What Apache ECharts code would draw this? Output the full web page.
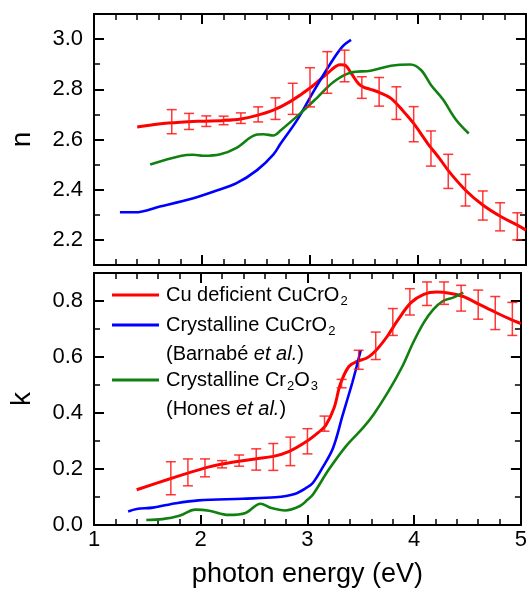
<!DOCTYPE html>
<html>
<head>
<meta charset="utf-8">
<script src="https://cdn.jsdelivr.net/npm/echarts@6/dist/echarts.min.js"></script>
<style>
  html, body { margin: 0; padding: 0; background: #fff; }
  #chart { width: 530px; height: 591px; }
</style>
</head>
<body>
<div id="chart"></div>
<script>
// ---- refractive index n (upper panel) ----
const nRedX   = [1.40, 1.60, 1.80, 2.00, 2.20, 2.36, 2.50, 2.66, 2.82, 3.00, 3.16, 3.28, 3.32, 3.38, 3.45, 3.50, 3.56, 3.65, 3.75, 3.87, 3.96, 4.09, 4.20, 4.29, 4.44, 4.60, 4.77, 4.92, 5.00];
const nRedY   = [2.650, 2.662, 2.669, 2.673, 2.676, 2.682, 2.695, 2.717, 2.752, 2.805, 2.863, 2.898, 2.897, 2.865, 2.822, 2.808, 2.800, 2.786, 2.764, 2.710, 2.664, 2.584, 2.524, 2.471, 2.398, 2.339, 2.292, 2.259, 2.239];
const nBlueX  = [1.24, 1.38, 1.61, 1.92, 2.11, 2.32, 2.51, 2.66, 2.73, 2.88, 3.04, 3.19, 3.30, 3.38];
const nBlueY  = [2.310, 2.310, 2.333, 2.366, 2.393, 2.426, 2.478, 2.540, 2.585, 2.677, 2.797, 2.903, 2.970, 2.997];
const nGreenX = [1.52, 1.80, 1.92, 2.01, 2.17, 2.32, 2.51, 2.57, 2.66, 2.73, 2.91, 3.06, 3.22, 3.38, 3.56, 3.75, 3.93, 4.03, 4.12, 4.23, 4.35, 4.47];
const nGreenY = [2.500, 2.534, 2.539, 2.535, 2.541, 2.567, 2.620, 2.621, 2.616, 2.637, 2.704, 2.764, 2.830, 2.867, 2.874, 2.894, 2.899, 2.876, 2.817, 2.760, 2.680, 2.624];

// ---- extinction coefficient k (lower panel) ----
const kRedX   = [1.40, 1.72, 2.05, 2.20, 2.51, 2.68, 2.83, 2.99, 3.10, 3.17, 3.25, 3.31, 3.39, 3.47, 3.56, 3.65, 3.75, 3.84, 3.97, 4.09, 4.21, 4.33, 4.46, 4.61, 4.77, 4.90, 5.00];
const kRedY   = [0.126, 0.166, 0.205, 0.218, 0.236, 0.245, 0.263, 0.298, 0.330, 0.355, 0.419, 0.505, 0.567, 0.585, 0.597, 0.627, 0.675, 0.728, 0.794, 0.824, 0.832, 0.828, 0.816, 0.788, 0.758, 0.735, 0.719];
const kBlueX  = [1.32, 1.40, 1.55, 1.77, 1.98, 2.39, 2.70, 2.88, 3.00, 3.05, 3.14, 3.24, 3.33, 3.42, 3.45, 3.50];
const kBlueY  = [0.048, 0.057, 0.062, 0.078, 0.088, 0.094, 0.099, 0.111, 0.135, 0.150, 0.204, 0.275, 0.392, 0.508, 0.550, 0.625];
const kGreenX = [1.49, 1.64, 1.80, 1.95, 2.08, 2.26, 2.42, 2.56, 2.66, 2.79, 2.93, 3.00, 3.05, 3.20, 3.36, 3.52, 3.62, 3.76, 3.89, 3.99, 4.09, 4.18, 4.27, 4.37, 4.46];
const kGreenY = [0.018, 0.021, 0.033, 0.055, 0.051, 0.036, 0.043, 0.076, 0.061, 0.052, 0.068, 0.090, 0.108, 0.198, 0.281, 0.347, 0.395, 0.478, 0.567, 0.651, 0.723, 0.770, 0.800, 0.813, 0.830];

// ---- error bars on the Cu deficient film ----
const errX    = [1.72, 1.88, 2.04, 2.20, 2.36, 2.52, 2.68, 2.84, 3.00, 3.16, 3.32, 3.48, 3.64, 3.80, 3.96, 4.12, 4.28, 4.44, 4.60, 4.76, 4.92];
const nErrMid = [2.671, 2.672, 2.673, 2.676, 2.685, 2.700, 2.723, 2.762, 2.808, 2.867, 2.893, 2.807, 2.790, 2.745, 2.661, 2.564, 2.473, 2.398, 2.337, 2.292, 2.254];
const nErr    = [0.048, 0.032, 0.021, 0.017, 0.021, 0.030, 0.043, 0.062, 0.078, 0.083, 0.063, 0.043, 0.057, 0.065, 0.070, 0.070, 0.068, 0.063, 0.058, 0.056, 0.054];
const kErrMid = [0.167, 0.188, 0.204, 0.217, 0.230, 0.234, 0.243, 0.263, 0.299, 0.362, 0.505, 0.590, 0.640, 0.725, 0.797, 0.826, 0.828, 0.810, 0.787, 0.757, 0.736];
const kErr    = [0.059, 0.048, 0.032, 0.013, 0.020, 0.038, 0.048, 0.051, 0.045, 0.027, 0.015, 0.034, 0.049, 0.048, 0.047, 0.042, 0.040, 0.046, 0.052, 0.059, 0.059];

const xTicks = [1, 2, 3, 4, 5];

const RED = '#ff0000', BLUE = '#0000ff', GREEN = '#108010';
const FONT = 'Liberation Sans, Arial, sans-serif';

const pairs = (xs, ys) => xs.map((x, i) => [x, ys[i]]);
const errRows = (xs, mid, err) => xs.map((x, i) => [x, mid[i], err[i]]);

function xAxisDef(gridIndex, position, withLabels) {
  return {
    type: 'value', gridIndex, position,
    min: xTicks[0], max: xTicks[xTicks.length - 1], interval: 1,
    axisLine: { show: true, onZero: false, lineStyle: { color: '#000', width: 2 } },
    axisTick: { show: true, inside: true, length: 10, lineStyle: { color: '#000', width: 2 } },
    minorTick: { show: true, splitNumber: 5, length: 6, lineStyle: { color: '#000', width: 1.5 } },
    splitLine: { show: false },
    axisLabel: {
      show: withLabels, margin: 4, color: '#000', fontFamily: FONT, fontSize: 22,
      formatter: v => String(v)
    }
  };
}

function yAxisDef(gridIndex, position, min, max, withLabels, name) {
  return {
    type: 'value', gridIndex, position, min, max, splitNumber: 5,
    axisLine: { show: true, onZero: false, lineStyle: { color: '#000', width: 2 } },
    axisTick: { show: true, inside: true, length: 10, lineStyle: { color: '#000', width: 2 } },
    minorTick: { show: true, splitNumber: 2, length: 6, lineStyle: { color: '#000', width: 1.5 } },
    splitLine: { show: false },
    axisLabel: {
      show: withLabels, margin: 11, color: '#000', fontFamily: FONT, fontSize: 22,
      formatter: v => (Math.round(v * 10) % 2 === 0 ? v.toFixed(1) : '')
    },
    name: name || '',
    nameLocation: 'middle', nameGap: 58,
    nameTextStyle: { color: '#000', fontFamily: FONT, fontSize: 28 }
  };
}

function lineSeries(xi, yi, data, color, width) {
  return {
    type: 'line', xAxisIndex: xi, yAxisIndex: yi, data,
    showSymbol: false, smooth: 0.35, silent: true,
    lineStyle: { color, width }, z: 3
  };
}

function errSeries(xi, yi, data) {
  return {
    type: 'custom', xAxisIndex: xi, yAxisIndex: yi, data, silent: true, z: 4,
    renderItem(params, api) {
      const x = api.value(0), m = api.value(1), e = api.value(2);
      const hi = api.coord([x, m + e]);
      const lo = api.coord([x, m - e]);
      const cap = 5;
      const style = { stroke: 'rgba(255,20,20,0.85)', lineWidth: 1.5, fill: null };
      return {
        type: 'group',
        children: [
          { type: 'line', shape: { x1: hi[0], y1: hi[1], x2: lo[0], y2: lo[1] }, style },
          { type: 'line', shape: { x1: hi[0] - cap, y1: hi[1], x2: hi[0] + cap, y2: hi[1] }, style },
          { type: 'line', shape: { x1: lo[0] - cap, y1: lo[1], x2: lo[0] + cap, y2: lo[1] }, style }
        ]
      };
    }
  };
}

// legend drawn as graphic items (needs sub-scripts and italics)
const legendRich = {
  t:  { fontFamily: FONT, fontSize: 20, color: '#000', lineHeight: 22, verticalAlign: 'middle' },
  it: { fontFamily: FONT, fontSize: 20, color: '#000', fontStyle: 'italic', lineHeight: 22, verticalAlign: 'middle' },
  s:  { fontFamily: FONT, fontSize: 13, color: '#000', lineHeight: 13, padding: [13, 0, 0, 1], verticalAlign: 'middle' }
};
const legendRows = [
  { color: RED,   y: 295, text: '{t|Cu deficient CuCrO}{s|2}' },
  { color: BLUE,  y: 325, text: '{t|Crystalline CuCrO}{s|2}' },
  { color: null,  y: 354, text: '{t|(Barnabé }{it|et al.}{t|)}' },
  { color: GREEN, y: 380, text: '{t|Crystalline Cr}{s|2}{t|O}{s|3}' },
  { color: null,  y: 409, text: '{t|(Hones }{it|et al.}{t|)}' }
];
const legendGraphics = [];
legendRows.forEach(r => {
  if (r.color) {
    legendGraphics.push({
      type: 'line', silent: true,
      shape: { x1: 112, y1: r.y, x2: 159, y2: r.y },
      style: { stroke: r.color, lineWidth: 3 }
    });
  }
  legendGraphics.push({
    type: 'text', silent: true, x: 166, y: r.y,
    style: { text: r.text, rich: legendRich, verticalAlign: 'middle', align: 'left' }
  });
});

const chart = echarts.init(document.getElementById('chart'), null, { renderer: 'canvas' });
chart.setOption({
  animation: false,
  backgroundColor: '#fff',
  grid: [
    { left: 94, top: 14, width: 432, height: 251 },
    { left: 94, top: 273, width: 432, height: 252 }
  ],
  xAxis: [
    xAxisDef(0, 'bottom', false),
    xAxisDef(0, 'top', false),
    Object.assign(xAxisDef(1, 'bottom', true), {
      name: 'photon energy (eV)', nameLocation: 'middle', nameGap: 36,
      nameTextStyle: { color: '#000', fontFamily: FONT, fontSize: 27 }
    }),
    xAxisDef(1, 'top', false)
  ],
  yAxis: [
    yAxisDef(0, 'left', 2.1, 3.1, true, 'n'),
    yAxisDef(0, 'right', 2.1, 3.1, false),
    yAxisDef(1, 'left', 0, 0.9, true, 'k'),
    yAxisDef(1, 'right', 0, 0.9, false)
  ],
  series: [
    lineSeries(0, 0, pairs(nRedX, nRedY), RED, 3),
    lineSeries(0, 0, pairs(nBlueX, nBlueY), BLUE, 2.6),
    lineSeries(0, 0, pairs(nGreenX, nGreenY), GREEN, 2.6),
    errSeries(0, 0, errRows(errX, nErrMid, nErr)),
    lineSeries(2, 2, pairs(kRedX, kRedY), RED, 3),
    lineSeries(2, 2, pairs(kBlueX, kBlueY), BLUE, 2.6),
    lineSeries(2, 2, pairs(kGreenX, kGreenY), GREEN, 2.6),
    errSeries(2, 2, errRows(errX, kErrMid, kErr))
  ],
  graphic: legendGraphics
});
</script>
</body>
</html>
